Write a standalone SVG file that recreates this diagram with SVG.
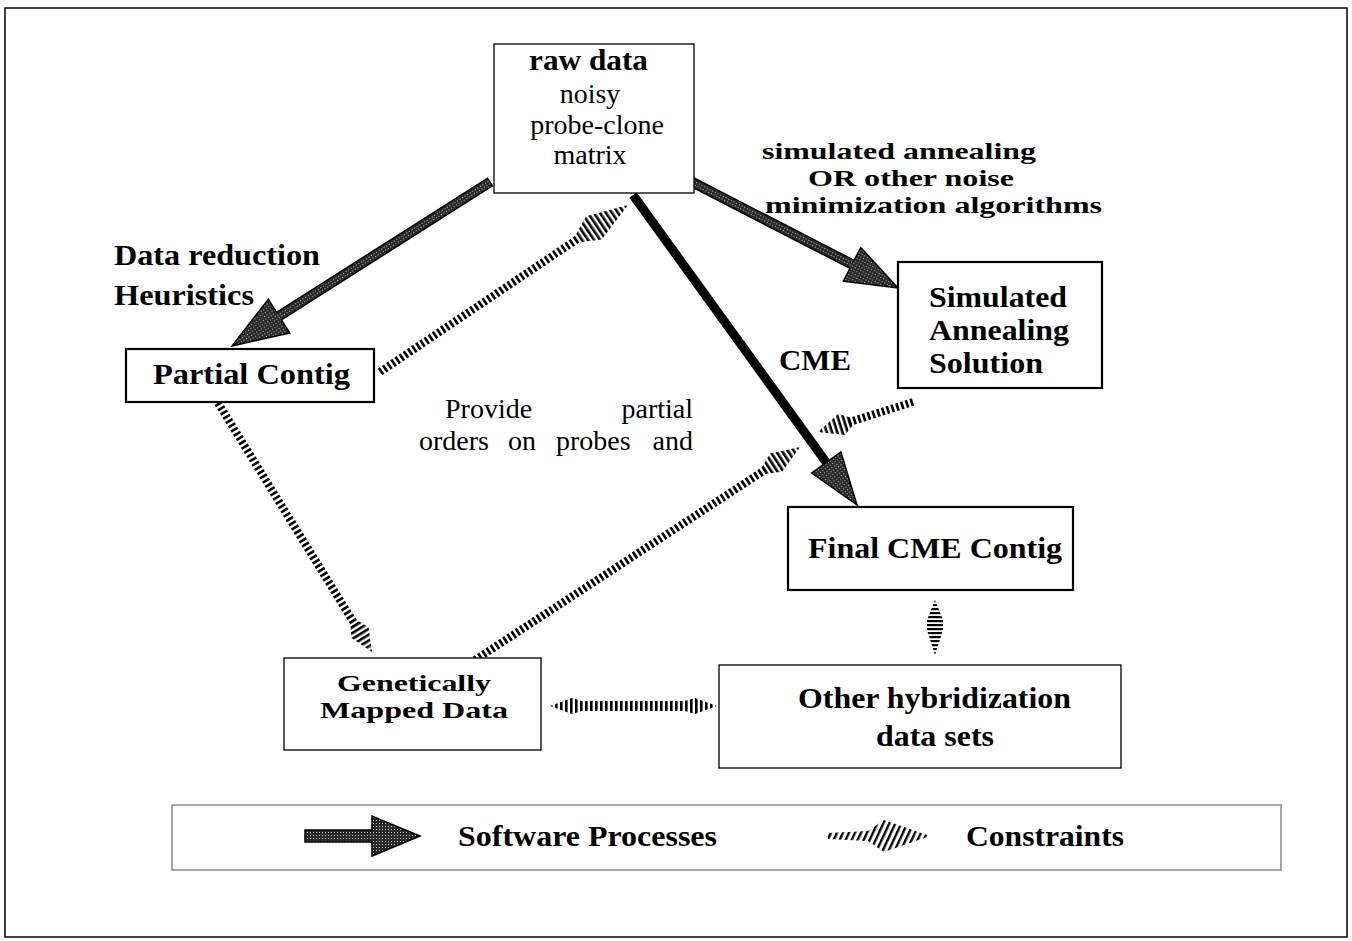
<svg xmlns="http://www.w3.org/2000/svg" width="1352" height="941" viewBox="0 0 1352 941">
<defs>
<pattern id="stip" patternUnits="userSpaceOnUse" width="3" height="3">
<rect width="3" height="3" fill="#2a2a2a"/>
<rect x="1" y="1" width="1" height="1" fill="#bdbdbd"/>
</pattern>
<pattern id="hatch" patternUnits="userSpaceOnUse" width="5" height="5">
<rect width="2.6" height="5" fill="#000"/>
</pattern>
<pattern id="hatchSkew" patternUnits="userSpaceOnUse" width="6" height="6" patternTransform="skewX(-25)">
<rect width="2.6" height="6" fill="#000"/>
</pattern>
<pattern id="hatchH" patternUnits="userSpaceOnUse" width="5" height="4">
<rect width="5" height="2.2" fill="#000"/>
</pattern>
</defs>
<style>
.bx{fill:#fff;stroke:#000;stroke-width:1.3}
.bxk{fill:#fff;stroke:#000;stroke-width:2.2}
.b{font-family:"Liberation Serif","Times New Roman",serif;font-weight:bold;font-size:29px;fill:#000}
.bs{font-family:"Liberation Serif","Times New Roman",serif;font-weight:bold;font-size:24px;fill:#000}
.r{font-family:"Liberation Serif","Times New Roman",serif;font-size:28px;fill:#000}
.sw{fill:url(#stip);stroke:#000;stroke-width:1.5}
.cs{stroke:#000;stroke-width:8;stroke-dasharray:2.6 2.4;fill:none}
.ch{fill:url(#hatch)}
</style>
<rect x="5" y="8" width="1342" height="929" fill="#fff" stroke="#000" stroke-width="1.5"/>

<g id="connectors">
<g transform="translate(490,182) rotate(147.56)">
<polygon class="sw" points="0,-4.5 250,-4.5 250,-20 305.7,0 250,20 250,4.5 0,4.5"/>
</g>
<g transform="translate(692,182) rotate(27.23)">
<polygon class="sw" points="0,-4.5 180,-4.5 180,-19 231.7,0 180,19 180,4.5 0,4.5"/>
</g>
<g transform="translate(633,195) rotate(54.15)">
<line x1="0" y1="0" x2="334" y2="0" stroke="#000" stroke-width="9"/>
<polygon class="sw" points="330,-18 382.4,0 330,18"/>
</g>
<g transform="translate(380,372) rotate(-33.96)">
<line class="cs" x1="0" y1="0" x2="240" y2="0"/>
<polygon class="ch" points="238,-4 258,-14 299,0 258,14 238,4"/>
</g>
<g transform="translate(218,403) rotate(58.26)">
<line class="cs" x1="0" y1="0" x2="262" y2="0"/>
<polygon class="ch" points="258,-4 270,-10 292.8,0 270,10 258,4"/>
</g>
<g transform="translate(475,660) rotate(-33.24)">
<line class="cs" x1="0" y1="0" x2="350" y2="0"/>
<polygon class="ch" points="346,-4 360,-11 388.6,0 360,11 346,4"/>
</g>
<g transform="translate(913,402) rotate(162.5)">
<line class="cs" x1="0" y1="0" x2="68" y2="0"/>
<polygon class="ch" points="64,-4 75,-11 99.6,0 75,11 64,4"/>
</g>
<polygon fill="url(#hatchH)" points="935,600 943,620 943,630 935,655 927,630 927,620"/>
<polygon fill="url(#hatch)" points="550,706 572,698 582,701 685,701 695,698 717,706 695,714 685,711 582,711 572,714"/>
</g>

<g id="raw">
<rect class="bx" x="494" y="44" width="200" height="149"/>
<text class="b" x="529" y="70" textLength="119" lengthAdjust="spacingAndGlyphs">raw data</text>
<text class="r" x="590" y="103" text-anchor="middle">noisy</text>
<text class="r" x="597" y="134" text-anchor="middle">probe-clone</text>
<text class="r" x="590" y="164" text-anchor="middle">matrix</text>
</g>

<g id="partial">
<rect class="bxk" x="126" y="349" width="248" height="53"/>
<text class="b" x="153" y="384" textLength="197" lengthAdjust="spacingAndGlyphs">Partial Contig</text>
</g>

<g id="simann">
<rect class="bxk" x="898" y="262" width="204" height="126"/>
<text class="b" x="929" y="307" textLength="138" lengthAdjust="spacingAndGlyphs">Simulated</text>
<text class="b" x="929" y="340" textLength="140" lengthAdjust="spacingAndGlyphs">Annealing</text>
<text class="b" x="929" y="373" textLength="114" lengthAdjust="spacingAndGlyphs">Solution</text>
</g>

<g id="final">
<rect class="bxk" x="788" y="507" width="285" height="83"/>
<text class="b" x="808" y="558" textLength="254" lengthAdjust="spacingAndGlyphs">Final CME Contig</text>
</g>

<g id="genetic">
<rect class="bx" x="284" y="658" width="257" height="92"/>
<text class="bs" x="337" y="691" textLength="154" lengthAdjust="spacingAndGlyphs">Genetically</text>
<text class="bs" x="320" y="718" textLength="188" lengthAdjust="spacingAndGlyphs">Mapped Data</text>
</g>

<g id="other">
<rect class="bx" x="719" y="665" width="402" height="103"/>
<text class="b" x="798" y="708" textLength="273" lengthAdjust="spacingAndGlyphs">Other hybridization</text>
<text class="b" x="876" y="746" textLength="118" lengthAdjust="spacingAndGlyphs">data sets</text>
</g>

<g id="labels">
<text class="bs" x="762" y="159" textLength="274" lengthAdjust="spacingAndGlyphs">simulated annealing</text>
<text class="bs" x="808" y="186" textLength="206" lengthAdjust="spacingAndGlyphs">OR other noise</text>
<text class="bs" x="765" y="213" textLength="337" lengthAdjust="spacingAndGlyphs">minimization algorithms</text>
<text class="b" x="114" y="265" textLength="206" lengthAdjust="spacingAndGlyphs">Data reduction</text>
<text class="b" x="114" y="305" textLength="140" lengthAdjust="spacingAndGlyphs">Heuristics</text>
<text class="b" x="779" y="370" textLength="72" lengthAdjust="spacingAndGlyphs">CME</text>
<text class="r" x="445" y="418">Provide</text>
<text class="r" x="693" y="418" text-anchor="end">partial</text>
<text class="r" x="419" y="450">orders</text>
<text class="r" x="508" y="450">on</text>
<text class="r" x="556" y="450">probes</text>
<text class="r" x="693" y="450" text-anchor="end">and</text>
</g>

<g id="legend">
<rect x="172" y="805" width="1109" height="65" fill="none" stroke="#777" stroke-width="1.3"/>
<polygon class="sw" points="305,830 372,830 372,816 420,836 372,856 372,842 305,842"/>
<text class="b" x="458" y="846" textLength="259" lengthAdjust="spacingAndGlyphs">Software Processes</text>
<polygon fill="url(#hatchSkew)" points="828,833 868,831 884,820 930,836 884,852 868,841 828,839"/>
<text class="b" x="966" y="846" textLength="158" lengthAdjust="spacingAndGlyphs">Constraints</text>
</g>
</svg>
